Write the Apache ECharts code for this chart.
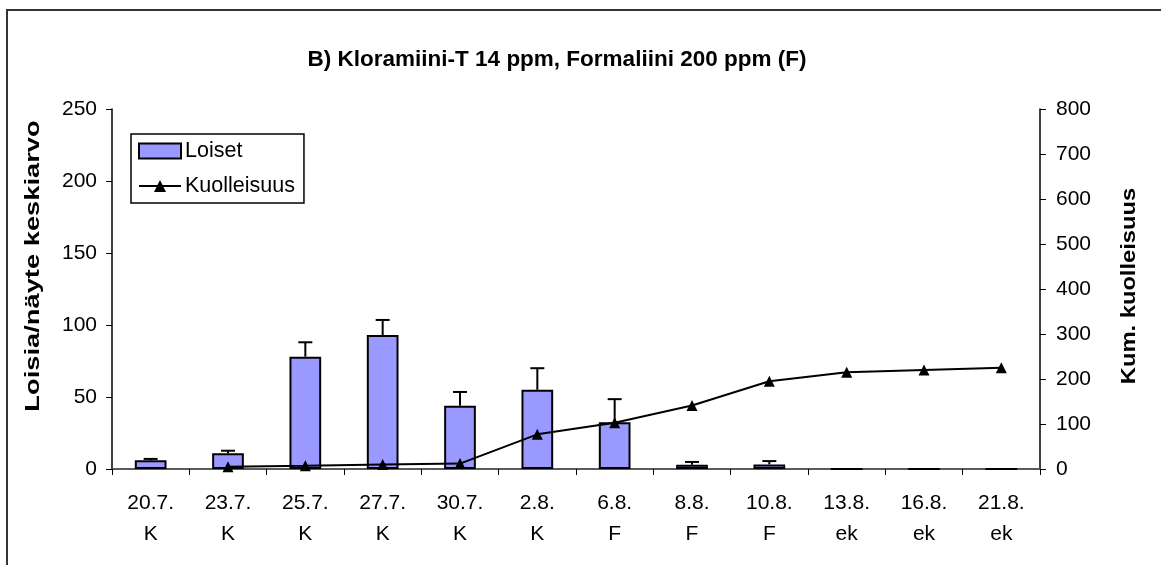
<!DOCTYPE html>
<html>
<head>
<meta charset="utf-8">
<script src="https://cdn.jsdelivr.net/npm/echarts@6/dist/echarts.min.js"></script>
<style>
html,body{margin:0;padding:0;background:#fff;}
#chart{width:1161px;height:565px;}
</style>
</head>
<body>
<div id="chart"></div>
<script>
var dates = ['20.7.', '23.7.', '25.7.', '27.7.', '30.7.', '2.8.', '6.8.', '8.8.', '10.8.', '13.8.', '16.8.', '21.8.'];
var treatments = ['K', 'K', 'K', 'K', 'K', 'K', 'F', 'F', 'F', 'ek', 'ek', 'ek'];
var loiset = [6, 11, 78, 93, 44, 55, 32.5, 3, 3.2, 0, 0, 0];
var loisetErr = [1, 1.7, 10, 10.5, 9.5, 15, 16, 1.9, 2.3, 0, 0, 0];
var kuolleisuus = [null, 5, 7, 10, 12, 77, 103, 141, 195, 215, 220, 225];
var leftTicks = [0, 50, 100, 150, 200, 250];
var rightTicks = [0, 100, 200, 300, 400, 500, 600, 700, 800];

var FONT = '"Liberation Sans", Arial, sans-serif';
var categories = dates.map(function (d, i) { return d + '\n' + treatments[i]; });
var errData = loiset.map(function (v, i) { return [i, v, v + loisetErr[i]]; });

var chart = echarts.init(document.getElementById('chart'), null, {renderer: 'canvas'});
chart.setOption({
  animation: false,
  backgroundColor: '#fff',
  textStyle: {fontFamily: FONT},
  grid: {left: 112, right: 121, top: 109, bottom: 96, containLabel: false},
  legend: {
    left: 131, top: 134, orient: 'vertical',
    padding: [6, 9, 6, 7], itemGap: 13,
    itemWidth: 42, itemHeight: 15,
    borderColor: '#000', borderWidth: 1.5,
    textStyle: {fontFamily: FONT, fontSize: 21.5, color: '#000', padding: [0, 0, 0, -1]},
    data: [
      {name: 'Loiset', icon: 'rect', itemStyle: {color: '#9999FF', borderColor: '#000', borderWidth: 2}},
      {name: 'Kuolleisuus'}
    ]
  },
  xAxis: [{
    type: 'category', data: categories, boundaryGap: true,
    axisLine: {lineStyle: {color: '#000', width: 1.5}},
    axisTick: {show: true, length: 6, lineStyle: {color: '#000', width: 1}},
    axisLabel: {color: '#000', fontSize: 21, fontFamily: FONT, lineHeight: 31, margin: 19, interval: 0}
  }, {
    type: 'category', data: categories, position: 'top',
    axisLine: {show: true, lineStyle: {color: '#666', width: 1.5}},
    axisTick: {show: false}, axisLabel: {show: false}
  }],
  yAxis: [{
    type: 'value', min: 0, max: 250, interval: 50,
    splitLine: {show: false},
    axisLine: {show: true, lineStyle: {color: '#000', width: 1.5}},
    axisTick: {show: true, length: 6, lineStyle: {color: '#000'}},
    axisLabel: {color: '#000', fontSize: 21, fontFamily: FONT, margin: 15,
      formatter: function (v) { return leftTicks.indexOf(v) >= 0 ? String(v) : ''; }}
  }, {
    type: 'value', min: 0, max: 800, interval: 100, position: 'right',
    splitLine: {show: false},
    axisLine: {show: true, lineStyle: {color: '#000', width: 1.5}},
    axisTick: {show: true, length: 6, lineStyle: {color: '#000'}},
    axisLabel: {color: '#000', fontSize: 21, fontFamily: FONT, margin: 16,
      formatter: function (v) { return rightTicks.indexOf(v) >= 0 ? String(v) : ''; }}
  }],
  graphic: [
    {type: 'rect', shape: {x: 7, y: 10, width: 1170, height: 570}, style: {fill: 'none', stroke: '#333', lineWidth: 2}, silent: true},
    {type: 'text', x: 557, y: 60, style: {text: 'B) Kloramiini-T 14 ppm, Formaliini 200 ppm (F)', font: 'bold 22.5px ' + FONT, fill: '#000', textAlign: 'center', textVerticalAlign: 'middle'}},
    {type: 'text', x: 33, y: 266, rotation: Math.PI / 2, scaleX: 1.3, style: {text: 'Loisia/näyte keskiarvo', font: 'bold 21px ' + FONT, fill: '#000', textAlign: 'center', textVerticalAlign: 'middle'}},
    {type: 'text', x: 1129, y: 286, rotation: Math.PI / 2, scaleX: 1.13, style: {text: 'Kum. kuolleisuus', font: 'bold 21px ' + FONT, fill: '#000', textAlign: 'center', textVerticalAlign: 'middle'}}
  ],
  series: [{
    name: 'Loiset', type: 'bar', data: loiset, barWidth: '41%',
    itemStyle: {color: '#9999FF', borderColor: '#000', borderWidth: 2}
  }, {
    name: 'Loiset-err', type: 'custom', data: errData,
    encode: {x: 0, y: [1, 2]}, z: 5,
    renderItem: function (params, api) {
      var lo = api.coord([api.value(0), api.value(1)]);
      var hi = api.coord([api.value(0), api.value(2)]);
      if (api.value(2) - api.value(1) <= 0) return null;
      var hw = 7;
      return {type: 'group', children: [
        {type: 'line', shape: {x1: lo[0], y1: lo[1], x2: hi[0], y2: hi[1]}, style: {stroke: '#000', lineWidth: 2}},
        {type: 'line', shape: {x1: hi[0] - hw, y1: hi[1], x2: hi[0] + hw, y2: hi[1]}, style: {stroke: '#000', lineWidth: 2}}
      ]};
    }
  }, {
    name: 'Kuolleisuus', type: 'line', yAxisIndex: 1, data: kuolleisuus,
    symbol: 'triangle', symbolSize: 11, showAllSymbol: true,
    lineStyle: {color: '#000', width: 2}, itemStyle: {color: '#000'}, z: 6
  }]
});
</script>
</body>
</html>
